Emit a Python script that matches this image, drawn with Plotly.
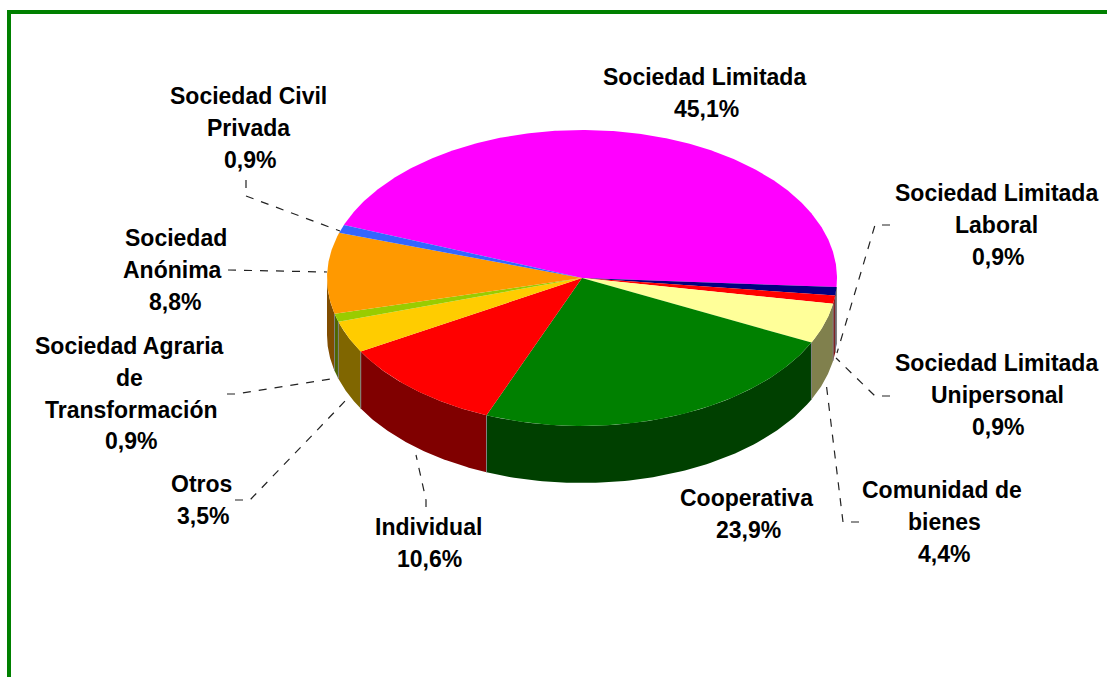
import numpy as np
import plotly.graph_objects as go

# Data
categories = ["Sociedad Limitada", "Sociedad Limitada Laboral", "Sociedad Limitada Unipersonal",
              "Comunidad de bienes", "Cooperativa", "Individual", "Otros",
              "Sociedad Agraria de Transformación", "Sociedad Anónima", "Sociedad Civil Privada"]
values = [45.1, 0.9, 0.9, 4.4, 23.9, 10.6, 3.5, 0.9, 8.8, 0.9]
value_labels = ["45,1%", "0,9%", "0,9%", "4,4%", "23,9%", "10,6%", "3,5%", "0,9%", "8,8%", "0,9%"]
top_colors = ["#FF00FF", "#000080", "#FF0000", "#FFFF99", "#008000", "#FF0000", "#FFCC00", "#99CC00", "#FF9900", "#3366FF"]
side_colors = ["#800080", "#000040", "#800000", "#80804D", "#004000", "#800000", "#806600", "#4D6600", "#804D00", "#1A3380"]

# Label layout: wrapped lines, centre x of each line (last one is the value), first line-centre y
label_lines = [["Sociedad Limitada"], ["Sociedad Limitada", "Laboral"], ["Sociedad Limitada", "Unipersonal"],
               ["Comunidad de", "bienes"], ["Cooperativa"], ["Individual"], ["Otros"],
               ["Sociedad Agraria", "de", "Transformación"], ["Sociedad", "Anónima"], ["Sociedad Civil", "Privada"]]
label_cx = [[704, 706], [996, 996, 998], [996, 997, 998], [942, 944, 944], [746, 748], [428, 429], [201, 203],
            [129, 129, 131, 131], [176, 172, 175], [248, 248, 250]]
label_y0 = [77, 193, 363, 490, 498, 527, 484, 346, 238, 96]
LINE_GAP = 31.8

leaders = [None,
           [(890, 225), (875, 225), (837, 353)],
           [(890, 396), (875, 396), (836, 358)],
           [(859, 522), (843, 522), (826, 382)],
           None,
           [(426, 507), (426, 500), (416, 455)],
           [(235, 500), (250, 500), (348, 398)],
           [(227, 394), (236, 394), (337, 378)],
           [(228, 270), (327, 272)],
           [(246, 180), (246, 196), (340, 231)]]

CX, CY, RX, RY, DEPTH = 582, 278, 255, 148, 57
START = -69.0

def pt(theta_deg, dy=0.0):
    t = np.radians(theta_deg)
    return CX + RX * np.sin(t), CY - RY * np.cos(t) + dy

fig = go.Figure()
total = sum(values)
edges = START + np.concatenate([[0], np.cumsum(values)]) / total * 360.0

def poly(x, y, color):
    fig.add_trace(go.Scatter(x=x, y=y, mode="lines", fill="toself", fillcolor=color,
                             line=dict(width=0, color=color), hoverinfo="skip", showlegend=False))

# Sides: only the front half (90..270 degrees) is visible
for k in range(len(values)):
    for shift in (0, 360):
        a, b = max(edges[k] + shift, 90), min(edges[k + 1] + shift, 270)
        if b > a:
            th = np.linspace(a, b, 80)
            x, y = pt(th)
            xb, yb = pt(th[::-1], DEPTH)
            poly(np.r_[x, xb, x[0]], np.r_[y, yb, y[0]], side_colors[k])

# Seams between the side faces
for e in edges:
    th = ((e - 90) % 360) + 90
    if 90 < th < 270:
        x0, y0 = pt(th)
        x1, y1 = pt(th, DEPTH)
        fig.add_trace(go.Scatter(x=[x0, x1], y=[y0, y1], mode="lines", line=dict(width=1, color="#808080"),
                                 hoverinfo="skip", showlegend=False))

# Top faces
for k in range(len(values)):
    th = np.linspace(edges[k], edges[k + 1], max(int(values[k] * 8), 12))
    x, y = pt(th)
    poly(np.r_[CX, x, CX], np.r_[CY, y, CY], top_colors[k])

annotations = []
for k, (lines, cxs, y0) in enumerate(zip(label_lines, label_cx, label_y0)):
    for i, t in enumerate(lines + [value_labels[k]]):
        annotations.append(dict(x=cxs[i], y=y0 + i * LINE_GAP, xref="x", yref="y", text=t, showarrow=False,
                                xanchor="center", yanchor="middle",
                                font=dict(family="Liberation Sans", size=23, color="#000000", weight="bold")))

shapes = [dict(type="rect", xref="x", yref="y", x0=7, x1=11, y0=10, y1=677, fillcolor="#008000", line_width=0),
          dict(type="rect", xref="x", yref="y", x0=7, x1=1107, y0=10, y1=14, fillcolor="#008000", line_width=0)]
for ld in leaders:
    if ld:
        p = "M " + " L ".join(f"{a} {b}" for a, b in ld)
        shapes.append(dict(type="path", xref="x", yref="y", path=p,
                           line=dict(color="#222222", width=1.2, dash="8px,8px")))

fig.update_layout(width=1107, height=677, margin=dict(l=0, r=0, t=0, b=0),
                  paper_bgcolor="#FFFFFF", plot_bgcolor="#FFFFFF",
                  xaxis=dict(range=[0, 1107], visible=False, fixedrange=True),
                  yaxis=dict(range=[677, 0], visible=False, fixedrange=True),
                  annotations=annotations, shapes=shapes, showlegend=False)
fig.write_html("out.html", config=dict(displayModeBar=False),
               post_script="document.body.style.margin='0';document.documentElement.style.overflow='hidden';")
